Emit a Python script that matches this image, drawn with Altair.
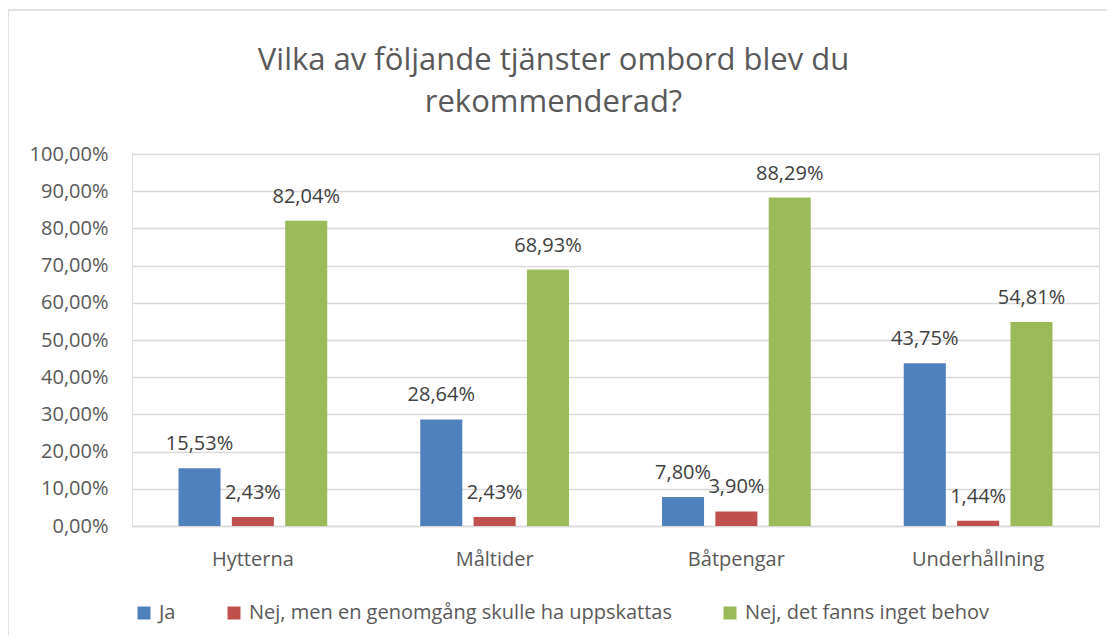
import altair as alt
import pandas as pd

categories = ["Hytterna", "Måltider", "Båtpengar", "Underhållning"]
series = ["Ja", "Nej, men en genomgång skulle ha uppskattas", "Nej, det fanns inget behov"]
ja = [0.1553, 0.2864, 0.0780, 0.4375]
nej_men = [0.0243, 0.0243, 0.0390, 0.0144]
nej_behov = [0.8204, 0.6893, 0.8829, 0.5481]
colors = ["#4F81BD", "#C0504D", "#9BBB59"]
y_ticks = [0.0, 0.1, 0.2, 0.3, 0.4, 0.5, 0.6, 0.7, 0.8, 0.9, 1.0]

rows = []
for i, c in enumerate(categories):
    for s, vals in zip(series, [ja, nej_men, nej_behov]):
        rows.append({"kategori": c, "serie": s, "varde": vals[i]})
df = pd.DataFrame(rows)

FONT = "Open Sans"
GRAY = "#595959"

x_enc = alt.X("kategori:N", sort=categories,
              scale=alt.Scale(paddingInner=0.338, paddingOuter=0.169),
              axis=alt.Axis(title=None, labelAngle=0, ticks=False, domain=True,
                            domainColor="#D9D9D9", domainWidth=1.3,
                            labelFontSize=20, labelColor=GRAY, labelFont=FONT,
                            labelPadding=23))
xoff = alt.XOffset("serie:N", sort=series,
                   scale=alt.Scale(paddingInner=0.212, paddingOuter=0.106))
y_enc = alt.Y("varde:Q", scale=alt.Scale(domain=[0, 1]),
              axis=alt.Axis(title=None, values=y_ticks, tickCount=11, ticks=False, domain=False,
                            grid=True, gridColor="#D9D9D9", gridWidth=1.3,
                            labelFontSize=20, labelColor=GRAY, labelFont=FONT,
                            labelPadding=24, labelOverlap=False,
                            labelExpr="replace(format(datum.value, '.2%'), '.', ',')"))

base = alt.Chart(df)

bars = base.mark_bar().encode(
    x=x_enc,
    xOffset=xoff,
    y=y_enc,
    color=alt.Color("serie:N", sort=series,
                    scale=alt.Scale(domain=series, range=colors),
                    legend=alt.Legend(title=None, orient="none", legendX=2, legendY=449,
                                      direction="horizontal", symbolType="square",
                                      symbolSize=169, symbolStrokeWidth=0,
                                      labelFontSize=20, labelColor=GRAY, labelFont=FONT,
                                      labelOffset=5, columnPadding=48, labelLimit=800)),
)

labels = base.transform_calculate(
    txt="replace(format(datum.varde, '.2%'), '.', ',')"
).mark_text(baseline="alphabetic", dy=-18, fontSize=20, font=FONT, color="#404040").encode(
    x=x_enc,
    xOffset=xoff,
    y=y_enc,
    text="txt:N",
)

border = alt.Chart(pd.DataFrame({"d": [0]})).mark_rect(
    fill="transparent", stroke="#D9D9D9", strokeWidth=1.5
).encode(
    x=alt.value(-124), x2=alt.value(1200), y=alt.value(-144), y2=alt.value(600)
)

chart = alt.layer(border, bars, labels).properties(
    width=967, height=372,
    padding={"left": 124, "top": 146, "right": 8, "bottom": 109},
    autosize="none",
    title=alt.TitleParams(
        text=["Vilka av följande tjänster ombord blev du", "rekommenderad?"],
        fontSize=31, font=FONT, color=GRAY, fontWeight="normal",
        anchor="middle", dx=-62, offset=-141, lineHeight=42, baseline="bottom",
    ),
).configure_view(stroke=None).configure(font=FONT)

chart.save("out.html", embed_options={"renderer": "svg", "actions": False})
